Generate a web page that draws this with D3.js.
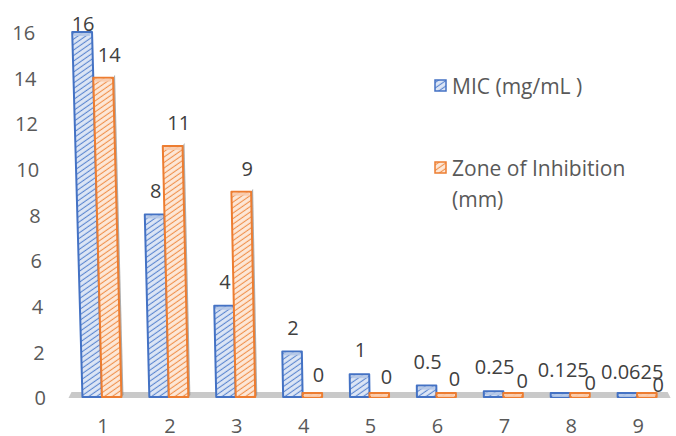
<!DOCTYPE html>
<html lang="en">
<head>
<meta charset="UTF-8">
<title>MIC and Zone of Inhibition</title>
<script src="https://d3js.org/d3.v7.min.js"></script>
<style>
    body { margin: 0; background: #fff; }
    svg text { font-family: "Open Sans", Lato, sans-serif; }
</style>
</head>
<body>
<script>
    // data
    const categories = ["1", "2", "3", "4", "5", "6", "7", "8", "9"];
    const mic = [16, 8, 4, 2, 1, 0.5, 0.25, 0.125, 0.0625];
    const micLabels = ["16", "8", "4", "2", "1", "0.5", "0.25", "0.125", "0.0625"];
    const zone = [14, 11, 9, 0, 0, 0, 0, 0, 0];
    const yTicks = [0, 2, 4, 6, 8, 10, 12, 14, 16];
    const seriesNames = ["MIC (mg/mL )", "Zone of Inhibition", "(mm)"];

    const width = 676, height = 436;
    const fs = 20;
    const svg = d3.select("body").append("svg")
        .attr("width", width)
        .attr("height", height);

    const x = d3.scaleBand().domain(categories).range([68.5, 670.6]);
    const y = d3.scaleLinear().domain([0, 16]).range([397, 32]);
    const y0 = y(0);

    // fake perspective: things lean toward a vanishing point on the right
    const vx = 700, D = 22000;
    const px = (xx, yy) => xx + (xx - vx) * (y0 - yy) / D;

    const defs = svg.append("defs");
    function hatch(id, bg, fg) {
        const p = defs.append("pattern")
            .attr("id", id)
            .attr("patternUnits", "userSpaceOnUse")
            .attr("width", 4.5).attr("height", 4.5)
            .attr("patternTransform", "rotate(-35)");
        p.append("rect").attr("width", 4.5).attr("height", 4.5).attr("fill", bg);
        p.append("line").attr("x1", 0).attr("y1", 2.2).attr("x2", 4.5).attr("y2", 2.2)
            .attr("stroke", fg).attr("stroke-width", 1.1);
    }
    hatch("hBlue", "#dde6f5", "#5b86d0");
    hatch("hOrange", "#fde8d8", "#f0904b");

    // floor
    svg.append("path")
        .attr("d", `M${x.range()[0]},${y0 + 1} L${x.range()[1]},${y0 + 1} L${x.range()[1] - 3},${y0 - 5} L${x.range()[0] + 3},${y0 - 5}Z`)
        .attr("fill", "#c9c9c9");

    // y tick labels
    svg.append("g").selectAll("text")
        .data(yTicks)
        .enter().append("text")
        .attr("x", d => px(46, y(d)))
        .attr("y", d => y(d) + 1)
        .attr("dy", "0.36em")
        .attr("text-anchor", "end")
        .attr("font-size", fs)
        .attr("fill", "#595959")
        .text(d => d);

    // x tick labels
    svg.append("g").selectAll("text")
        .data(categories)
        .enter().append("text")
        .attr("x", d => x(d) + x.bandwidth() / 2 + 1)
        .attr("y", 426)
        .attr("dy", "0.36em")
        .attr("text-anchor", "middle")
        .attr("font-size", fs)
        .attr("fill", "#595959")
        .text(d => d);

    const barW = 19.5;
    const series = [
        { values: mic, fill: "url(#hBlue)", stroke: "#4472c4", cap: "#b4c7e7", off: -barW },
        { values: zone, fill: "url(#hOrange)", stroke: "#ed7d31", cap: "#f8cbad", off: 0 }
    ];

    series.forEach((s, si) => {
        const g = svg.append("g");
        categories.forEach((c, i) => {
            const xl = x(c) + x.bandwidth() / 2 + s.off;
            const xr = xl + barW;
            const yt = Math.min(y(s.values[i]), y0 - 4);
            const pts = [[xl, y0], [xr, y0], [px(xr, yt), yt], [px(xl, yt), yt]];
            // side face
            if (si === 1 && s.values[i] > 0) {
                g.append("path")
                    .attr("d", `M${xr},${y0} L${xr + 2},${y0 - 2} L${px(xr, yt) + 2},${yt - 3} L${px(xr, yt)},${yt}Z`)
                    .attr("fill", "#8a8a8a").attr("opacity", 0.7);
            }
            g.append("path")
                .attr("d", "M" + pts.map(p => p.join(",")).join("L") + "Z")
                .attr("fill", s.fill)
                .attr("stroke", s.stroke)
                .attr("stroke-width", 2)
                .attr("stroke-linejoin", "round");
            // top cap
            g.append("rect")
                .attr("x", px(xl, yt) + 1.5)
                .attr("y", yt + 1)
                .attr("width", barW - 3)
                .attr("height", 3)
                .attr("fill", s.cap)
                .attr("opacity", 0.9);
        });
    });

    // value labels
    const lab = svg.append("g").attr("font-size", fs).attr("fill", "#404040").attr("text-anchor", "middle");
    categories.forEach((c, i) => {
        const xc = x(c) + x.bandwidth() / 2 - barW / 2;
        const yt = y(mic[i]);
        lab.append("text")
            .attr("x", px(xc, yt) + 1 + Math.max(0, xc - 500) * 0.03)
            .attr("y", Math.max(24, yt - 24))
            .attr("dy", "0.36em")
            .text(micLabels[i]);
    });
    categories.forEach((c, i) => {
        const xc = x(c) + x.bandwidth() / 2 + barW / 2;
        const yt = y(zone[i]);
        const shift = Math.max(0, xc - 300);
        lab.append("text")
            .attr("x", px(xc, yt) + 6 + shift * 0.015)
            .attr("y", yt - 23 + shift * 0.03)
            .attr("dy", "0.36em")
            .text(zone[i]);
    });

    // legend
    const leg = svg.append("g");
    const legItems = [
        { fill: "url(#hBlue)", stroke: "#4472c4", y: 86, lines: [seriesNames[0]] },
        { fill: "url(#hOrange)", stroke: "#ed7d31", y: 168, lines: [seriesNames[1], seriesNames[2]] }
    ];
    legItems.forEach(it => {
        leg.append("rect")
            .attr("x", 435).attr("y", it.y - 6)
            .attr("width", 11).attr("height", 11)
            .attr("fill", it.fill)
            .attr("stroke", it.stroke)
            .attr("stroke-width", 1.5);
        it.lines.forEach((t, k) => {
            leg.append("text")
                .attr("x", 452)
                .attr("y", it.y + k * 31)
                .attr("dy", "0.36em")
                .attr("font-size", fs + 1)
                .attr("fill", "#595959")
                .text(t);
        });
    });
</script>
</body>
</html>
